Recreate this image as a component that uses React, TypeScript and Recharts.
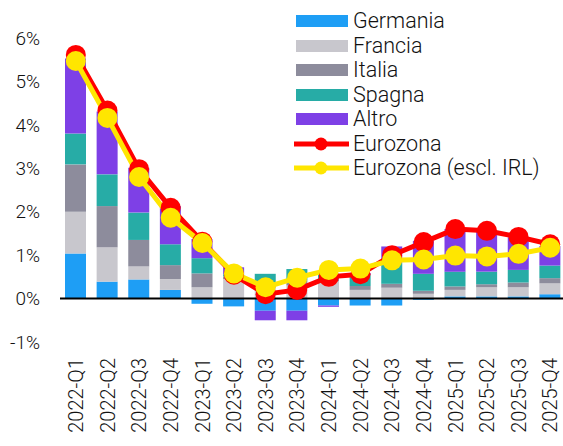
import React from 'react';
import { ComposedChart, Bar, Line, XAxis, YAxis, ReferenceLine } from 'recharts';

const quarters = [
  '2022-Q1', '2022-Q2', '2022-Q3', '2022-Q4',
  '2023-Q1', '2023-Q2', '2023-Q3', '2023-Q4',
  '2024-Q1', '2024-Q2', '2024-Q3', '2024-Q4',
  '2025-Q1', '2025-Q2', '2025-Q3', '2025-Q4',
];

// contributi per paese (punti percentuali)
const germania = [1.04, 0.39, 0.44, 0.2, -0.12, -0.18, -0.28, -0.28, -0.16, -0.16, -0.16, -0.03, 0.05, 0.05, 0.05, 0.1];
const francia = [0.96, 0.79, 0.3, 0.25, 0.26, 0.45, 0.25, 0.3, 0.4, 0.2, 0.25, 0.11, 0.15, 0.21, 0.21, 0.25];
const italia = [1.09, 0.95, 0.61, 0.32, 0.32, 0.06, 0.1, 0.12, 0.05, 0.09, 0.09, 0.07, 0.08, 0.07, 0.11, 0.12];
const spagna = [0.71, 0.73, 0.63, 0.48, 0.35, 0.05, 0.22, 0.26, 0.12, 0.25, 0.48, 0.39, 0.34, 0.29, 0.29, 0.29];
const altro = [1.73, 1.45, 1.03, 0.88, 0.44, 0.16, -0.22, -0.22, -0.03, 0.05, 0.38, 0.76, 0.98, 0.94, 0.75, 0.45];

const eurozona = [5.61, 4.33, 2.98, 2.09, 1.31, 0.55, 0.1, 0.2, 0.5, 0.56, 1.0, 1.3, 1.6, 1.56, 1.42, 1.25];
const eurozonaExIrl = [5.47, 4.16, 2.8, 1.86, 1.28, 0.58, 0.26, 0.48, 0.66, 0.69, 0.88, 0.9, 0.99, 0.97, 1.03, 1.17];

const yTicks = [-1, 0, 1, 2, 3, 4, 5, 6];

const data = quarters.map((q, i) => ({
  q,
  germania: germania[i],
  francia: francia[i],
  italia: italia[i],
  spagna: spagna[i],
  altro: altro[i],
  eurozona: eurozona[i],
  eurozonaExIrl: eurozonaExIrl[i],
}));

const FONT = 'Roboto, "Liberation Sans", sans-serif';

const bars = [
  { key: 'germania', name: 'Germania', color: '#1E9EF5' },
  { key: 'francia', name: 'Francia', color: '#C8C7CD' },
  { key: 'italia', name: 'Italia', color: '#8D8C9C' },
  { key: 'spagna', name: 'Spagna', color: '#27ACA6' },
  { key: 'altro', name: 'Altro', color: '#7E40E6' },
];

const lines = [
  { key: 'eurozona', name: 'Eurozona', color: '#FF0000' },
  { key: 'eurozonaExIrl', name: 'Eurozona (escl. IRL)', color: '#FFE600' },
];

const YTick = ({ x, y, payload }: any) => (
  <text x={x} y={y} dy="0.35em" textAnchor="end" fontSize={19} fontWeight={300} fill="#111" fontFamily={FONT}>
    {payload.value}%
  </text>
);

const XTick = ({ x, y, payload }: any) => (
  <text
    x={x}
    y={y}
    dy="0.36em"
    textAnchor="end"
    transform={`rotate(-90, ${x}, ${y})`}
    fontSize={20}
    fontWeight={300}
    fill="#111"
    fontFamily={FONT}
  >
    {payload.value}
  </text>
);

const LegendBox = () => (
  <div style={{ position: 'absolute', left: 294, top: 9, fontFamily: FONT, fontSize: 21.5, fontWeight: 300, color: '#111' }}>
    {bars.map((b) => (
      <div key={b.key} style={{ height: 24.5, display: 'flex', alignItems: 'center' }}>
        <svg width={59} height={16}>
          <rect x={2} y={2} width={52} height={12} fill={b.color} />
        </svg>
        <span style={{ lineHeight: '24px' }}>{b.name}</span>
      </div>
    ))}
    {lines.map((l) => (
      <div key={l.key} style={{ height: 24.5, display: 'flex', alignItems: 'center' }}>
        <svg width={59} height={16}>
          <line x1={0} y1={8} x2={55} y2={8} stroke={l.color} strokeWidth={5} />
          <circle cx={27} cy={8} r={6.5} fill={l.color} />
        </svg>
        <span style={{ lineHeight: '24px' }}>{l.name}</span>
      </div>
    ))}
  </div>
);

export default function App() {
  return (
    <div style={{ position: 'absolute', left: 0, top: 0, width: 563, height: 446, background: '#fff', overflow: 'hidden' }}>
      <ComposedChart
        width={563}
        height={446}
        data={data}
        stackOffset="sign"
        barSize={21}
        margin={{ top: 38, right: -3, left: 0, bottom: 0 }}
      >
        <XAxis
          dataKey="q"
          height={104}
          axisLine={false}
          tickLine={false}
          tickSize={0}
          tickMargin={16}
          interval={0}
          tick={<XTick />}
        />
        <YAxis
          width={60}
          domain={[-1, 6]}
          ticks={yTicks}
          axisLine={false}
          tickLine={false}
          tickSize={0}
          tickMargin={20}
          tick={<YTick />}
        />
        {bars.map((b) => (
          <Bar key={b.key} dataKey={b.key} name={b.name} stackId="a" fill={b.color} isAnimationActive={false} />
        ))}
        <ReferenceLine y={0} stroke="#000" strokeWidth={2} />
        {lines.map((l) => (
          <Line
            key={l.key}
            type="linear"
            dataKey={l.key}
            name={l.name}
            stroke={l.color}
            strokeWidth={5}
            dot={{ r: 10, fill: l.color, stroke: l.color, strokeWidth: 0 }}
            activeDot={false}
            isAnimationActive={false}
          />
        ))}
      </ComposedChart>
      <LegendBox />
    </div>
  );
}
